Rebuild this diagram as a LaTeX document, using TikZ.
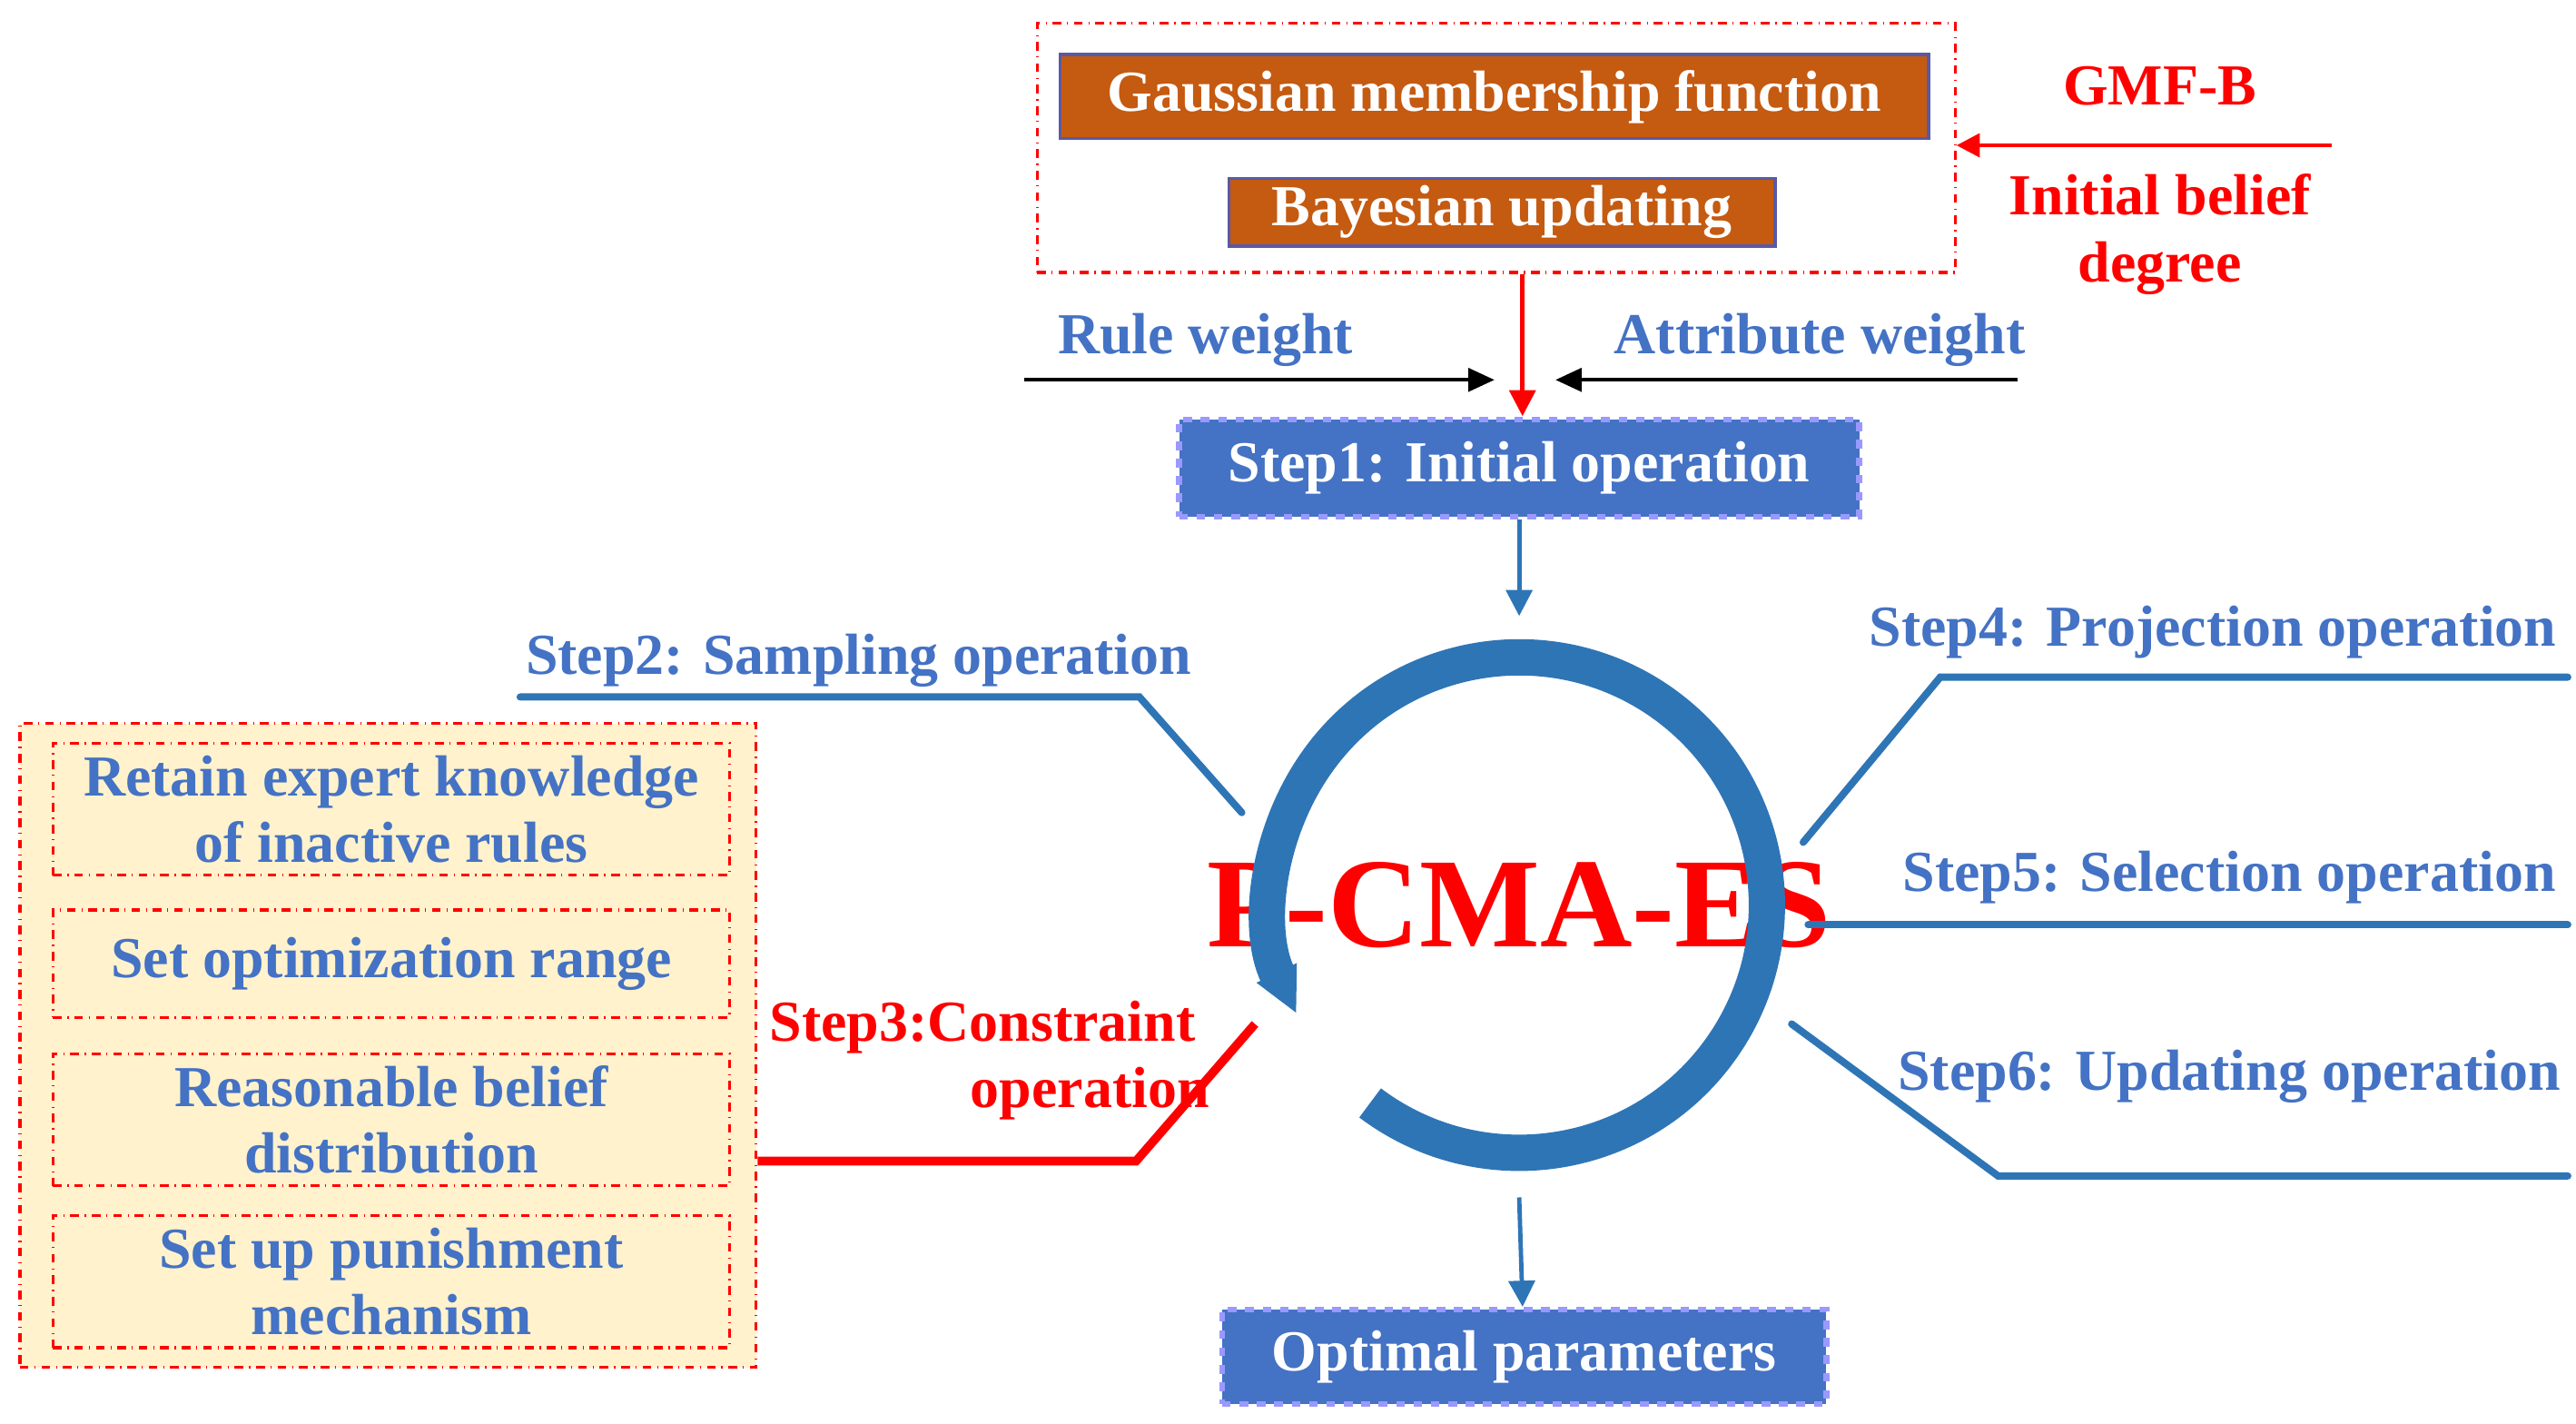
\documentclass[tikz,border=0pt]{standalone}
\usepackage{fontspec}
\setmainfont{Liberation Serif}
\usetikzlibrary{arrows.meta}
\definecolor{brick}{HTML}{C55A11}
\definecolor{stepblue}{HTML}{4472C4}
\definecolor{ringblue}{HTML}{2E75B6}
\definecolor{txtblue}{HTML}{4472C4}
\definecolor{paleyellow}{HTML}{FFF2CC}
\begin{document}
\begin{tikzpicture}[x=0.02cm,y=-0.02cm,font=\fontsize{20}{23}\selectfont\bfseries]
	\tikzstyle{orangebox}=[rectangle, fill=brick, draw=gray!70!blue, line width=1pt, text=white, inner sep=0pt]
	\tikzstyle{stepbox}=[rectangle, fill=stepblue, draw=blue!40, dashed, line width=2pt, text=white, inner sep=0pt]
	\tikzstyle{redframe}=[rectangle, draw=red, dash dot, line width=1pt, inner sep=0pt]
	\tikzstyle{rulebox}=[redframe, fill=paleyellow, text=txtblue, align=center, minimum width=8.2cm]
	\tikzstyle{bluetxt}=[text=txtblue, inner sep=0pt]
	\tikzstyle{redtxt}=[text=red, inner sep=0pt, align=center]
	\useasboundingbox (0,0) rectangle (1560,862);

	% upper part
	\node[redframe, minimum width=11.12cm, minimum height=3.02cm] (frameA) at (906,89.5) {};
	\node[orangebox, minimum width=10.52cm, minimum height=1.02cm] (gmf) at (905,58.5) {Gaussian membership function};
	\node[orangebox, minimum width=6.62cm, minimum height=0.82cm] (bayes) at (909.5,128.5) {Bayesian updating};
	\node[redtxt] (gmfb) at (1308,52) {GMF-B};
	\node[redtxt] (belief) at (1308,142) {Initial belief\\degree};
	\coordinate (beliefin) at (1412,88);
	\draw[->, >={Triangle[length=8pt,width=8pt]}, red, line width=1.5pt] (beliefin) -- (frameA.east |- beliefin);

	\node[bluetxt] (rw) at (730,206) {Rule weight};
	\node[bluetxt] (aw) at (1102,206) {Attribute weight};
	\node[stepbox, minimum width=8.24cm, minimum height=1.18cm] (step1) at (920,283.5) {Step1: Initial operation};
	\coordinate (rwin) at (620,230);
	\coordinate (awin) at (1222,230);
	\draw[->, >={Triangle[length=9pt,width=8pt]}, line width=1.2pt] (rwin) -- (905,230);
	\draw[->, >={Triangle[length=9pt,width=8pt]}, line width=1.2pt] (awin) -- (942,230);
	\draw[->, >={Triangle[length=9pt,width=9pt]}, red, line width=1.5pt] (frameA.south -| 922,0) -- (922,252);

	% ring
	\node[circle, minimum size=5.6cm, inner sep=0pt] (ring) at (920,548) {};
	\node[text=red, font=\fontsize{44}{50}\selectfont\bfseries] (pcma) at (920,548) {P-CMA-ES};
	\draw[ringblue, line width=0.44cm, -{Triangle[length=0.55cm,width=0.5cm]}] (ring.center) ++(127:150) arc[start angle=127, end angle=-206, radius=150];
	\draw[->, >={Triangle[length=9pt,width=9pt]}, ringblue, line width=1.5pt] (step1) -- (920,373);

	% step labels
	\node[bluetxt] (s2) at (520,400) {Step2: Sampling operation};
	\node[bluetxt] (s4) at (1340,383) {Step4: Projection operation};
	\node[bluetxt] (s5) at (1350,531) {Step5: Selection operation};
	\node[bluetxt] (s6) at (1350,652) {Step6: Updating operation};
	\node[redtxt] (s3) at (595,642) {Step3:Constraint\\\hspace*{2.6cm}operation};
	\draw[ringblue, line width=2.5pt, line cap=round] (315,422) -- (690,422) -- (752,492);
	\draw[ringblue, line width=2.5pt, line cap=round] (1555,410) -- (1175,410) -- (1092,510);
	\draw[ringblue, line width=2.5pt, line cap=round] (1555,560) -- (1095,560);
	\draw[ringblue, line width=2.5pt, line cap=round] (1555,712) -- (1210,712) -- (1085,620);

	% constraint box
	\node[redframe, fill=paleyellow, minimum width=8.92cm, minimum height=7.8cm] (frameB) at (235,633) {};
	\node[rulebox, minimum height=1.6cm] (r1) at (237,490) {Retain expert knowledge\\of inactive rules};
	\node[rulebox, minimum height=1.3cm] (r2) at (237,583.5) {Set optimization range};
	\node[rulebox, minimum height=1.6cm] (r3) at (237,678) {Reasonable belief\\distribution};
	\node[rulebox, minimum height=1.6cm] (r4) at (237,776) {Set up punishment\\mechanism};
	\draw[red, line width=3pt] (frameB.east |- 0,703) -- (688,703) -- (760,620);

	% output
	\node[stepbox, minimum width=7.32cm, minimum height=1.14cm] (opt) at (923,821.5) {Optimal parameters};
	\draw[->, >={Triangle[length=9pt,width=9pt]}, ringblue, line width=1.5pt] (920,725) -- (opt);
\end{tikzpicture}
\end{document}
